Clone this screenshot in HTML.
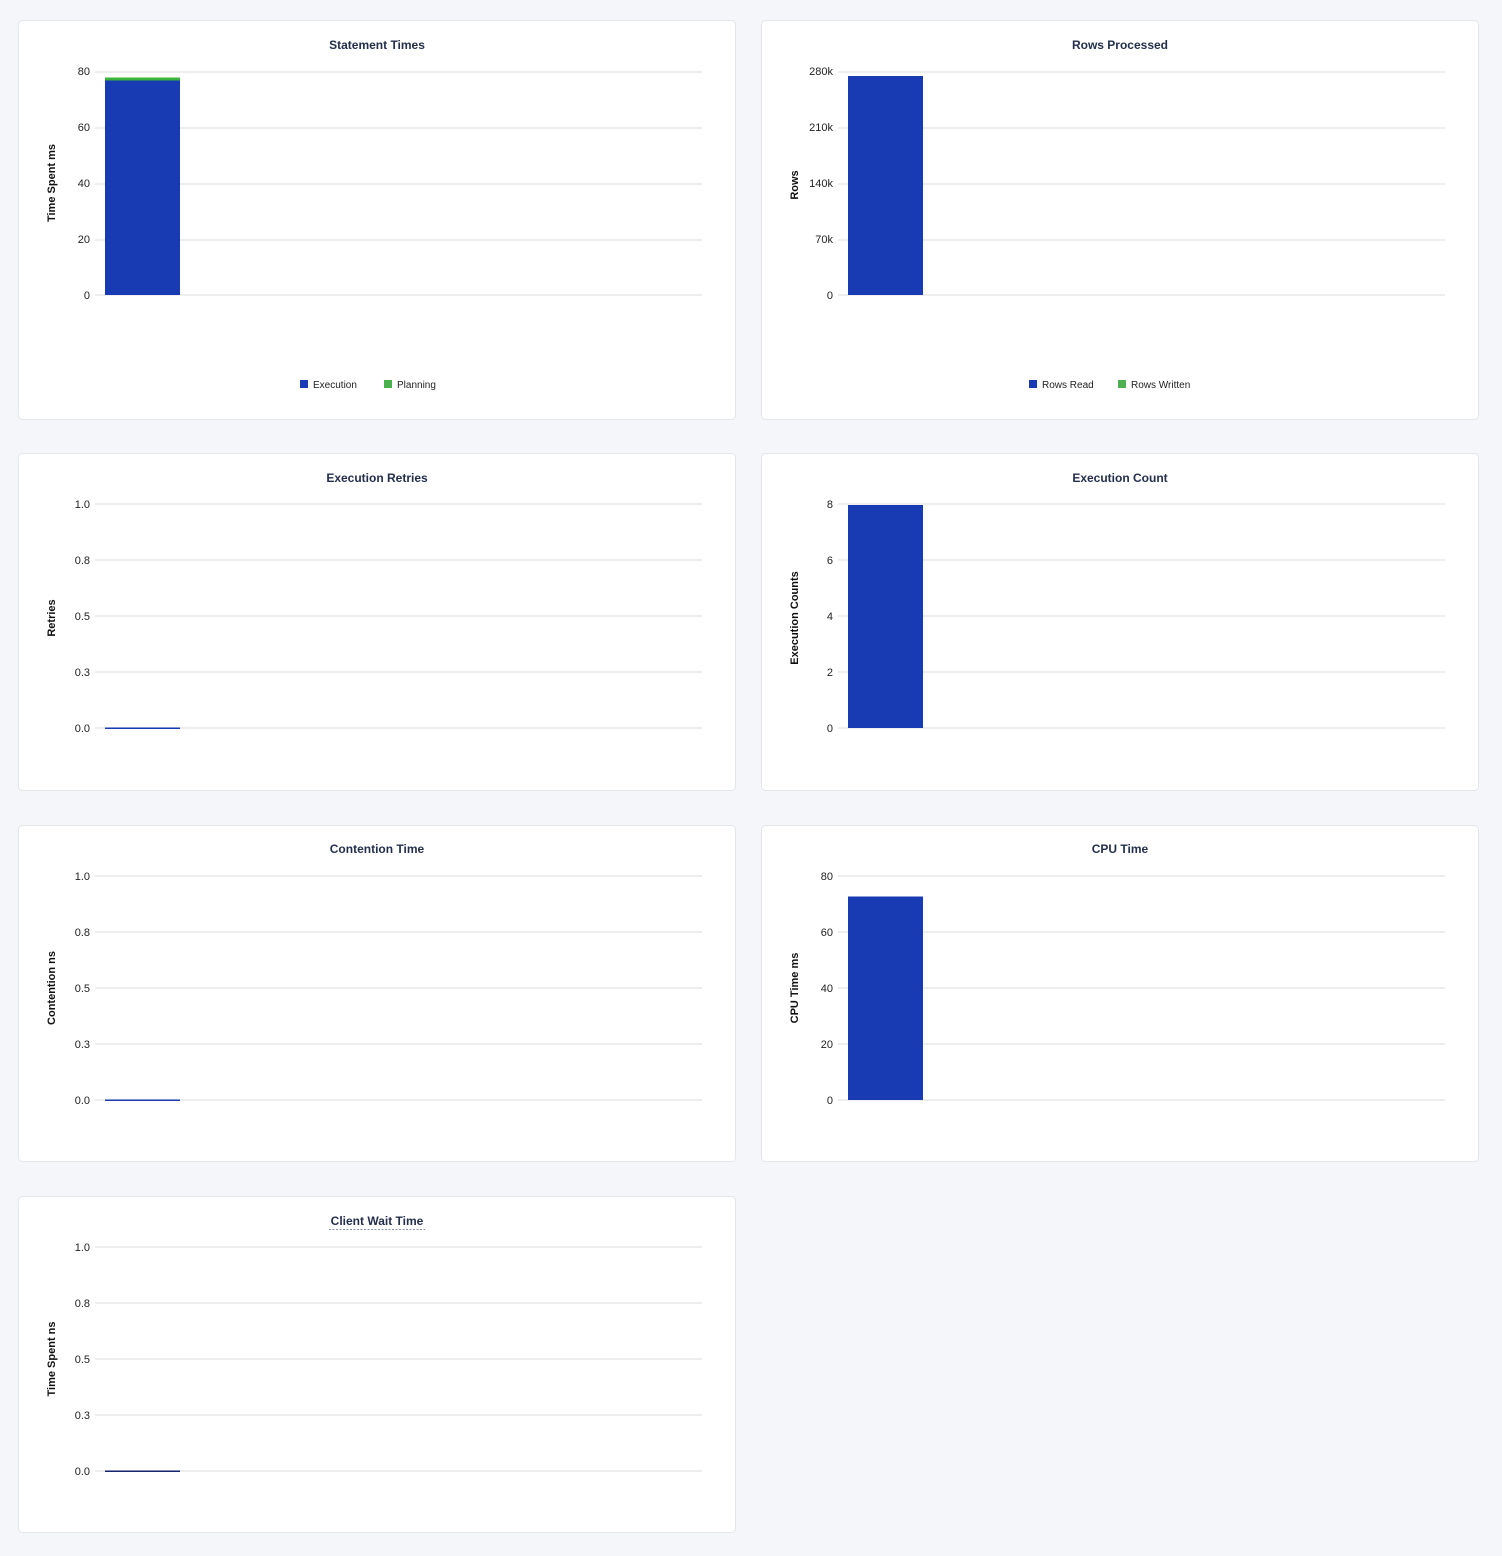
<!DOCTYPE html>
<html><head><meta charset="utf-8"><style>
html,body{margin:0;padding:0;background:#f4f6f9;}
svg{display:block;}
.card{fill:#fff;stroke:#e3e6ea;stroke-width:1;}
.t{font:bold 12px "Liberation Sans",sans-serif;fill:#242f4d;text-anchor:middle;}
.k{font:11px "Liberation Sans",sans-serif;fill:#222;text-anchor:end;}
.a{font:bold 11px "Liberation Sans",sans-serif;fill:#111;text-anchor:middle;}
.l{font:10px "Liberation Sans",sans-serif;fill:#222;}
.g{stroke:#e8e9ec;stroke-width:1.5;}
</style></head><body>
<svg width="1502" height="1556" viewBox="0 0 1502 1556" xmlns="http://www.w3.org/2000/svg">
<rect width="1502" height="1556" fill="#f4f6f9"/>
<!-- cards -->
<rect class="card" x="18.5" y="20.5" width="717" height="399" rx="4"/>
<rect class="card" x="761.5" y="20.5" width="717" height="399" rx="4"/>
<rect class="card" x="18.5" y="453.5" width="717" height="337" rx="4"/>
<rect class="card" x="761.5" y="453.5" width="717" height="337" rx="4"/>
<rect class="card" x="18.5" y="825.5" width="717" height="336" rx="4"/>
<rect class="card" x="761.5" y="825.5" width="717" height="336" rx="4"/>
<rect class="card" x="18.5" y="1196.5" width="717" height="336" rx="4"/>

<!-- Card 1 Statement Times -->
<text class="t" x="377" y="49">Statement Times</text>
<g class="g"><line x1="95" x2="702" y1="72" y2="72"/><line x1="95" x2="702" y1="128" y2="128"/><line x1="95" x2="702" y1="184" y2="184"/><line x1="95" x2="702" y1="240" y2="240"/><line x1="95" x2="702" y1="295" y2="295"/></g>
<text class="k" x="90" y="75">80</text><text class="k" x="90" y="131">60</text><text class="k" x="90" y="187">40</text><text class="k" x="90" y="243">20</text><text class="k" x="90" y="299">0</text>
<text class="a" transform="translate(55,183) rotate(-90)">Time Spent ms</text>
<rect x="105" y="77.5" width="75" height="3" fill="#3cb33c"/>
<rect x="105" y="80.5" width="75" height="214.5" fill="#183bb4"/>
<rect x="300" y="380" width="8" height="8" fill="#183bb4"/><text class="l" x="313" y="388">Execution</text>
<rect x="384" y="380" width="8" height="8" fill="#4caf50"/><text class="l" x="397" y="388">Planning</text>

<!-- Card 2 Rows Processed -->
<text class="t" x="1120" y="49">Rows Processed</text>
<g class="g"><line x1="838" x2="1445" y1="72" y2="72"/><line x1="838" x2="1445" y1="128" y2="128"/><line x1="838" x2="1445" y1="184" y2="184"/><line x1="838" x2="1445" y1="240" y2="240"/><line x1="838" x2="1445" y1="295" y2="295"/></g>
<text class="k" x="833" y="75">280k</text><text class="k" x="833" y="131">210k</text><text class="k" x="833" y="187">140k</text><text class="k" x="833" y="243">70k</text><text class="k" x="833" y="299">0</text>
<text class="a" transform="translate(798,185) rotate(-90)">Rows</text>
<rect x="848" y="76" width="75" height="219" fill="#183bb4"/>
<rect x="1029" y="380" width="8" height="8" fill="#183bb4"/><text class="l" x="1042" y="388">Rows Read</text>
<rect x="1118" y="380" width="8" height="8" fill="#4caf50"/><text class="l" x="1131" y="388">Rows Written</text>

<!-- Card 3 Execution Retries -->
<text class="t" x="377" y="482">Execution Retries</text>
<g class="g"><line x1="95" x2="702" y1="504" y2="504"/><line x1="95" x2="702" y1="560" y2="560"/><line x1="95" x2="702" y1="616" y2="616"/><line x1="95" x2="702" y1="672" y2="672"/><line x1="95" x2="702" y1="728" y2="728"/></g>
<text class="k" x="90" y="508">1.0</text><text class="k" x="90" y="564">0.8</text><text class="k" x="90" y="620">0.5</text><text class="k" x="90" y="676">0.3</text><text class="k" x="90" y="732">0.0</text>
<text class="a" transform="translate(55,618) rotate(-90)">Retries</text>
<rect x="105" y="727.5" width="75" height="1.5" fill="#183bb4"/>

<!-- Card 4 Execution Count -->
<text class="t" x="1120" y="482">Execution Count</text>
<g class="g"><line x1="838" x2="1445" y1="504" y2="504"/><line x1="838" x2="1445" y1="560" y2="560"/><line x1="838" x2="1445" y1="616" y2="616"/><line x1="838" x2="1445" y1="672" y2="672"/><line x1="838" x2="1445" y1="728" y2="728"/></g>
<text class="k" x="833" y="508">8</text><text class="k" x="833" y="564">6</text><text class="k" x="833" y="620">4</text><text class="k" x="833" y="676">2</text><text class="k" x="833" y="732">0</text>
<text class="a" transform="translate(798,618) rotate(-90)">Execution Counts</text>
<rect x="848" y="505" width="75" height="223" fill="#183bb4"/>

<!-- Card 5 Contention Time -->
<text class="t" x="377" y="853">Contention Time</text>
<g class="g"><line x1="95" x2="702" y1="876" y2="876"/><line x1="95" x2="702" y1="932" y2="932"/><line x1="95" x2="702" y1="988" y2="988"/><line x1="95" x2="702" y1="1044" y2="1044"/><line x1="95" x2="702" y1="1100" y2="1100"/></g>
<text class="k" x="90" y="880">1.0</text><text class="k" x="90" y="936">0.8</text><text class="k" x="90" y="992">0.5</text><text class="k" x="90" y="1048">0.3</text><text class="k" x="90" y="1104">0.0</text>
<text class="a" transform="translate(55,988) rotate(-90)">Contention ns</text>
<rect x="105" y="1099.5" width="75" height="1.5" fill="#183bb4"/>

<!-- Card 6 CPU Time -->
<text class="t" x="1120" y="853">CPU Time</text>
<g class="g"><line x1="838" x2="1445" y1="876" y2="876"/><line x1="838" x2="1445" y1="932" y2="932"/><line x1="838" x2="1445" y1="988" y2="988"/><line x1="838" x2="1445" y1="1044" y2="1044"/><line x1="838" x2="1445" y1="1100" y2="1100"/></g>
<text class="k" x="833" y="880">80</text><text class="k" x="833" y="936">60</text><text class="k" x="833" y="992">40</text><text class="k" x="833" y="1048">20</text><text class="k" x="833" y="1104">0</text>
<text class="a" transform="translate(798,988) rotate(-90)">CPU Time ms</text>
<rect x="848" y="896.5" width="75" height="203.5" fill="#183bb4"/>

<!-- Card 7 Client Wait Time -->
<text class="t" x="377" y="1225">Client Wait Time</text>
<line x1="329" x2="425" y1="1229.5" y2="1229.5" stroke="#8a93a8" stroke-width="1" stroke-dasharray="2,1.5"/>
<g class="g"><line x1="95" x2="702" y1="1247" y2="1247"/><line x1="95" x2="702" y1="1303" y2="1303"/><line x1="95" x2="702" y1="1359" y2="1359"/><line x1="95" x2="702" y1="1415" y2="1415"/><line x1="95" x2="702" y1="1471" y2="1471"/></g>
<text class="k" x="90" y="1251">1.0</text><text class="k" x="90" y="1307">0.8</text><text class="k" x="90" y="1363">0.5</text><text class="k" x="90" y="1419">0.3</text><text class="k" x="90" y="1475">0.0</text>
<text class="a" transform="translate(55,1359) rotate(-90)">Time Spent ns</text>
<rect x="105" y="1470.5" width="75" height="1.5" fill="#14246e"/>
</svg>
</body></html>
